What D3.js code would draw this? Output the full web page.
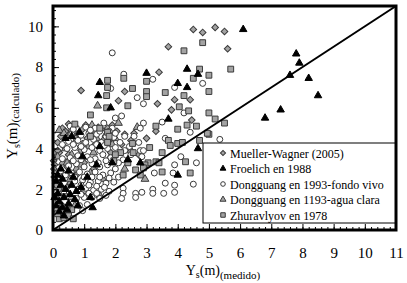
<!DOCTYPE html>
<html>
<head>
<meta charset="utf-8">
<script src="https://cdn.jsdelivr.net/npm/d3@7"></script>
<style>
  body { margin: 0; background: #fff; }
  text { font-family: "Liberation Serif", "Times New Roman", serif; fill: #000; }
</style>
</head>
<body>
<svg id="chart"></svg>
<script>
// ---- data ----
const xTickLabels = [0, 1, 2, 3, 4, 5, 6, 7, 8, 9, 10, 11];
const yTickLabels = [0, 2, 4, 6, 8, 10];
const seriesNames = ["Mueller-Wagner (2005)", "Froelich en 1988", "Dongguang en 1993-fondo vivo",
  "Dongguang en 1193-agua clara", "Zhuravlyov en 1978"];

const muellerWagner = [
  [4.5,9.85],[4.8,9.7],[5.2,9.95],[5.5,9.75],[3.7,9.0],[5.6,8.9],[3.4,7.75],[4.4,6.4],[3.9,6.4],
  [3.35,6.2],[3.8,5.9],[4.45,5.4],[3.0,4.5],[0.9,6.85],[2.3,6.8],[2.1,6.35],[2.3,4.7],[1.9,4.45],
  [3.3,4.85],[0.02,3.4],[0.05,3.2],[0.03,3.0],[0.06,2.8],[0.04,2.6],[0.08,2.45],[0.1,3.6],
  [0.4,4.85],[0.6,4.9],[0.85,4.85],[0.95,4.95],[1.25,4.9],[1.55,4.95],[1.75,5.0],[2.05,4.85],
  [2.6,4.75],[0.25,4.6],[0.15,4.3],[0.35,4.1],[0.2,3.8],[0.5,3.7],[0.7,4.3],[0.9,3.9],[1.1,4.5],
  [1.35,4.2],[0.45,3.1],[0.3,2.6],[0.55,2.3],[0.2,2.0],[0.4,1.7],[0.15,1.5],[0.3,1.2],[0.6,3.4],
  [1.0,3.3],[1.6,4.4],[1.85,3.8],[2.2,4.2],[0.75,2.7],[0.1,1.0],[1.3,3.0],[0.85,1.9],[2.5,4.4],[2.75,3.7],
  [0.5,5.2],[1.05,5.15],[1.45,5.05],[0.3,5.0],[0.7,4.55],[1.9,5.15],[0.15,3.9],[0.35,3.4],[0.1,2.2],[0.45,2.1]
];
const froelich = [
  [6.1,9.85],[3.0,7.7],[4.3,7.9],[4.65,7.65],[4.0,7.2],[4.3,7.0],[3.7,5.45],[6.8,5.5],[7.8,8.65],
  [7.9,8.2],[7.6,7.6],[8.2,7.45],[8.5,6.6],[7.3,5.9],[1.5,7.25],[1.45,6.6],[1.85,6.0],[2.4,3.45],
  [2.8,3.3],[4.0,2.7],[1.27,1.1],[4.65,4.0],[0.85,4.8],
  [0.1,1.2],[0.2,1.4],[0.15,1.8],[0.3,1.1],[0.35,1.6],[0.4,2.0],[0.25,2.2],[0.5,1.3],[0.55,1.75],
  [0.6,2.2],[0.7,1.5],[0.45,1.0],[0.75,1.9],[0.3,2.5],[0.65,2.6],[0.8,1.2],[0.1,2.4],[0.2,0.9],
  [0.9,2.1],[0.5,2.9],[0.25,3.0],[1.1,2.6],[1.4,3.2],[0.95,3.6],[0.6,4.6],[1.5,4.1],[0.4,4.5],
  [1.9,3.3],[1.2,1.6],[0.15,2.7],[0.35,0.7],[0.05,1.6]
];
const dongguangFondo = [
  [1.9,8.7],[2.27,7.65],[1.85,6.95],[3.2,7.4],[2.7,6.5],[2.9,6.2],[3.9,7.0],[4.8,7.2],[4.2,5.75],
  [2.9,5.25],[2.8,5.0],[3.5,5.3],[4.4,4.8],[5.35,4.45],[2.0,5.5],[2.2,5.6],[1.63,5.25],[3.6,4.5],
  [1.95,4.55],[2.8,3.9],
  [2.25,2.05],[2.25,1.8],[2.2,1.55],[2.65,1.8],[2.65,1.6],[2.85,1.85],[3.2,2.0],[3.2,1.8],[3.55,1.8],
  [3.9,1.85],[3.9,2.2],[3.6,2.3],[4.5,2.25],[4.6,3.3],[4.1,3.6],[3.9,3.2],[3.85,2.8],[3.25,2.8],
  [2.9,3.9],[2.85,3.6],[2.5,3.7],[2.25,3.45],
  [0.55,5.1],[0.75,5.0],[1.05,5.05],[1.35,5.0],[1.9,5.0],
  [0.6,4.7],[0.9,4.65],[1.15,4.75],[1.4,4.7],[1.7,4.6],[2.0,4.75],[2.3,4.6],
  [0.5,4.35],[0.8,4.4],[1.05,4.3],[1.3,4.45],[1.55,4.3],[2.15,4.3],[2.45,4.1],
  [0.45,4.0],[0.7,4.05],[1.0,3.95],[1.25,4.05],[1.5,3.9],[1.75,4.0],[2.0,4.05],[2.3,3.9],
  [0.55,3.55],[0.8,3.65],[1.1,3.6],[1.35,3.5],[1.6,3.7],[1.85,3.55],[2.1,3.3],
  [0.5,3.15],[0.75,3.25],[1.0,3.1],[1.25,3.25],[1.5,3.1],[1.75,3.2],[2.0,3.0],
  [0.6,2.8],[0.85,2.85],[1.1,2.75],[1.35,2.85],[1.6,2.7],[1.85,2.8],[2.1,2.6],
  [0.7,2.4],[0.95,2.45],[1.2,2.35],[1.45,2.4],[1.7,2.3],[1.95,2.35],
  [0.8,2.0],[1.05,2.05],[1.3,1.95],[1.55,2.0],[1.8,1.9],
  [0.75,1.55],[1.0,1.6],[1.25,1.6],[1.5,1.55],[0.85,1.2],[1.1,1.25],[0.95,0.95],
  [0.3,3.5],[0.25,2.9],[0.3,4.2],[0.4,2.7],[0.35,1.9],[2.6,4.6],[2.75,4.3],
  [0.65,4.95],[1.2,4.9],[1.5,4.85],[1.8,4.85],[0.65,4.2],[0.9,4.1],[1.4,4.2],[1.65,4.15],
  [0.65,3.4],[0.9,3.45],[1.2,3.45],[1.45,3.3],[1.7,3.4],[0.7,2.6],[1.0,2.6],[1.25,2.6],
  [1.5,2.6],[1.8,2.55],[0.9,2.2],[1.15,2.2],[1.4,2.15],[1.65,2.1],[0.9,1.75],[1.15,1.8],
  [1.4,1.8],[1.7,1.7]
];
const dongguangClara = [
  [1.43,6.1],[2.1,5.25],[2.7,5.05],[2.95,2.5],
  [0.5,4.6],[0.4,4.0],[0.6,3.7],[1.3,3.8],[0.9,3.2],[1.2,2.8],[1.6,2.5],[1.8,3.5],[0.7,1.2],
  [1.0,1.9],[0.3,3.3],[2.0,4.5],[1.5,1.7],[2.3,3.0],[0.2,4.9],[1.1,4.1],[0.75,3.0],[1.7,4.7],
  [2.5,3.9],[0.55,2.5],
  [0.35,4.75],[0.8,4.75],[1.25,5.15],[0.15,3.6],[0.45,3.3],[0.25,1.6],[0.6,1.6],[1.9,4.2],
  [1.4,4.5],[0.95,4.2]
];
const zhuravlyov = [
  [4.8,9.2],[4.2,8.8],[4.7,7.9],[4.5,7.45],[5.0,7.6],[5.7,7.9],[3.0,7.3],[3.0,6.8],[3.0,6.55],
  [3.6,6.75],[4.2,6.6],[5.0,6.8],[2.55,6.95],[4.05,6.05],[4.35,5.85],[5.0,5.75],[5.2,5.45],
  [5.5,5.25],[4.0,4.95],[4.3,5.15],[4.6,5.1],[5.0,4.7],[3.3,5.1],[3.7,4.4],[2.27,7.45],[1.75,7.35],
  [1.75,7.0],[1.72,6.6],[1.2,5.65],[1.72,6.0],[2.4,6.1],
  [1.75,4.8],[1.75,4.3],[2.55,4.25],[2.57,3.8],[2.17,3.8],[3.1,4.05],[3.5,3.8],[3.76,4.15],
  [4.0,4.25],[4.15,4.3],[4.7,4.4],[4.95,4.75],[4.25,3.35],[4.4,2.8],[3.3,3.35],[3.05,3.3],
  [2.95,3.2],[2.9,3.05],[2.65,2.95],[3.4,3.3],[3.5,2.85],[2.25,2.7],[2.8,2.7],[2.4,3.3],
  [0.2,0.55],[0.35,0.6],[0.5,0.7],[0.6,1.0],[0.65,0.55],[0.45,1.0],[0.3,0.9],[0.15,0.8],
  [1.8,4.6],[2.0,3.7],[1.95,3.4],[1.2,4.6],[0.7,5.2],[1.5,5.0]
];

// ---- layout ----
const width = 407, height = 283;
const plot = {left: 53, right: 396, top: 6, bottom: 230};
const serif = "Liberation Serif, Times New Roman, serif";

const svg = d3.select("#chart").attr("width", width).attr("height", height);

const x = d3.scaleLinear().domain([0, 11]).range([plot.left, plot.right]);
const y = d3.scaleLinear().domain([0, 11]).range([plot.bottom, plot.top]);

const grey = "#a3a3a3", edge = "#3a3a3a";

// series styles (legend order); diamonds are squares turned 45 degrees
const styles = [
  {data: muellerWagner, type: d3.symbolSquare, size: 22, rot: 45, fill: grey, stroke: edge},
  {data: froelich, type: d3.symbolTriangle, size: 24, rot: 0, fill: "#000", stroke: "#000"},
  {data: dongguangFondo, type: d3.symbolCircle, size: 28, rot: 0, fill: "#fff", stroke: edge},
  {data: dongguangClara, type: d3.symbolTriangle, size: 26, rot: 0, fill: grey, stroke: edge},
  {data: zhuravlyov, type: d3.symbolSquare, size: 34, rot: 0, fill: grey, stroke: edge}
];

// draw order: diamonds, grey triangles, circles, squares, black triangles
[0, 3, 2, 4, 1].forEach(i => {
  const s = styles[i];
  svg.append("g").selectAll("path")
    .data(s.data)
    .join("path")
    .attr("transform", d => `translate(${x(d[0])},${y(d[1])}) rotate(${s.rot})`)
    .attr("d", d3.symbol().type(s.type).size(s.size))
    .attr("fill", s.fill)
    .attr("stroke", s.stroke)
    .attr("stroke-width", 1);
});

// 1:1 line
svg.append("line")
  .attr("x1", x(0)).attr("y1", y(0))
  .attr("x2", x(11)).attr("y2", y(11))
  .attr("stroke", "#000").attr("stroke-width", 2);

// inward ticks
const xMinor = d3.range(0, 11.001, 0.2);
const yMinor = d3.range(0, 10.801, 0.4);

svg.append("g")
  .attr("transform", `translate(0,${plot.bottom})`)
  .call(d3.axisBottom(x).tickValues(xMinor).tickSize(-3).tickFormat(""))
  .call(g => g.select(".domain").remove());
svg.append("g")
  .attr("transform", `translate(0,${plot.bottom})`)
  .call(d3.axisBottom(x).tickValues(xTickLabels).tickSize(-6).tickFormat(""))
  .call(g => g.select(".domain").remove());
svg.append("g")
  .attr("transform", `translate(${plot.left},0)`)
  .call(d3.axisLeft(y).tickValues(yMinor).tickSize(-3).tickFormat(""))
  .call(g => g.select(".domain").remove());
svg.append("g")
  .attr("transform", `translate(${plot.left},0)`)
  .call(d3.axisLeft(y).tickValues(yTickLabels).tickSize(-6).tickFormat(""))
  .call(g => g.select(".domain").remove());

svg.selectAll(".tick line").attr("stroke", "#000").attr("stroke-width", 1);

// tick labels
svg.append("g")
  .attr("transform", `translate(0,${plot.bottom})`)
  .call(d3.axisBottom(x).tickValues(xTickLabels).tickSize(0).tickPadding(17))
  .call(g => g.select(".domain").remove())
  .call(g => g.selectAll("text").attr("font-size", 15).attr("font-family", serif));
svg.append("g")
  .attr("transform", `translate(${plot.left},0)`)
  .call(d3.axisLeft(y).tickValues(yTickLabels).tickSize(0).tickPadding(10))
  .call(g => g.select(".domain").remove())
  .call(g => g.selectAll("text").attr("font-size", 15).attr("font-family", serif));

// frame
svg.append("rect")
  .attr("x", plot.left).attr("y", plot.top)
  .attr("width", plot.right - plot.left).attr("height", plot.bottom - plot.top)
  .attr("fill", "none").attr("stroke", "#000").attr("stroke-width", 3);

// axis titles
const xTitle = svg.append("text")
  .attr("x", 223).attr("y", 275)
  .attr("text-anchor", "middle").attr("font-size", 14).attr("font-family", serif);
xTitle.append("tspan").text("Y");
xTitle.append("tspan").attr("font-size", 10).attr("dy", 3).text("s");
xTitle.append("tspan").attr("dy", -3).text("(m)");
xTitle.append("tspan").attr("font-size", 11).attr("dy", 4).text("(medido)");

const yTitle = svg.append("text")
  .attr("transform", "translate(17,116) rotate(-90)")
  .attr("text-anchor", "middle").attr("font-size", 15).attr("font-family", serif);
yTitle.append("tspan").text("Y");
yTitle.append("tspan").attr("font-size", 10).attr("dy", 3).text("s");
yTitle.append("tspan").attr("dy", -3).text("(m)");
yTitle.append("tspan").attr("font-size", 11).attr("dy", 2).text("(calculado)");

// legend
const legend = svg.append("g").attr("transform", "translate(203,143)");
legend.append("rect")
  .attr("width", 192).attr("height", 80)
  .attr("fill", "#fff").attr("stroke", "#000").attr("stroke-width", 1);
const rows = legend.selectAll("g.row")
  .data(styles.map((s, i) => ({...s, name: seriesNames[i]})))
  .join("g")
  .attr("class", "row")
  .attr("transform", (d, i) => `translate(0,${10 + i * 15.5})`);
rows.append("path")
  .attr("transform", d => `translate(20,0) rotate(${d.rot})`)
  .attr("d", d => d3.symbol().type(d.type).size(d.size * 0.6)())
  .attr("fill", d => d.fill)
  .attr("stroke", d => d.stroke)
  .attr("stroke-width", 1);
rows.append("text")
  .attr("x", 27).attr("y", 4.5)
  .attr("font-size", 12)
  .attr("font-family", serif)
  .text(d => d.name);
</script>
</body>
</html>
